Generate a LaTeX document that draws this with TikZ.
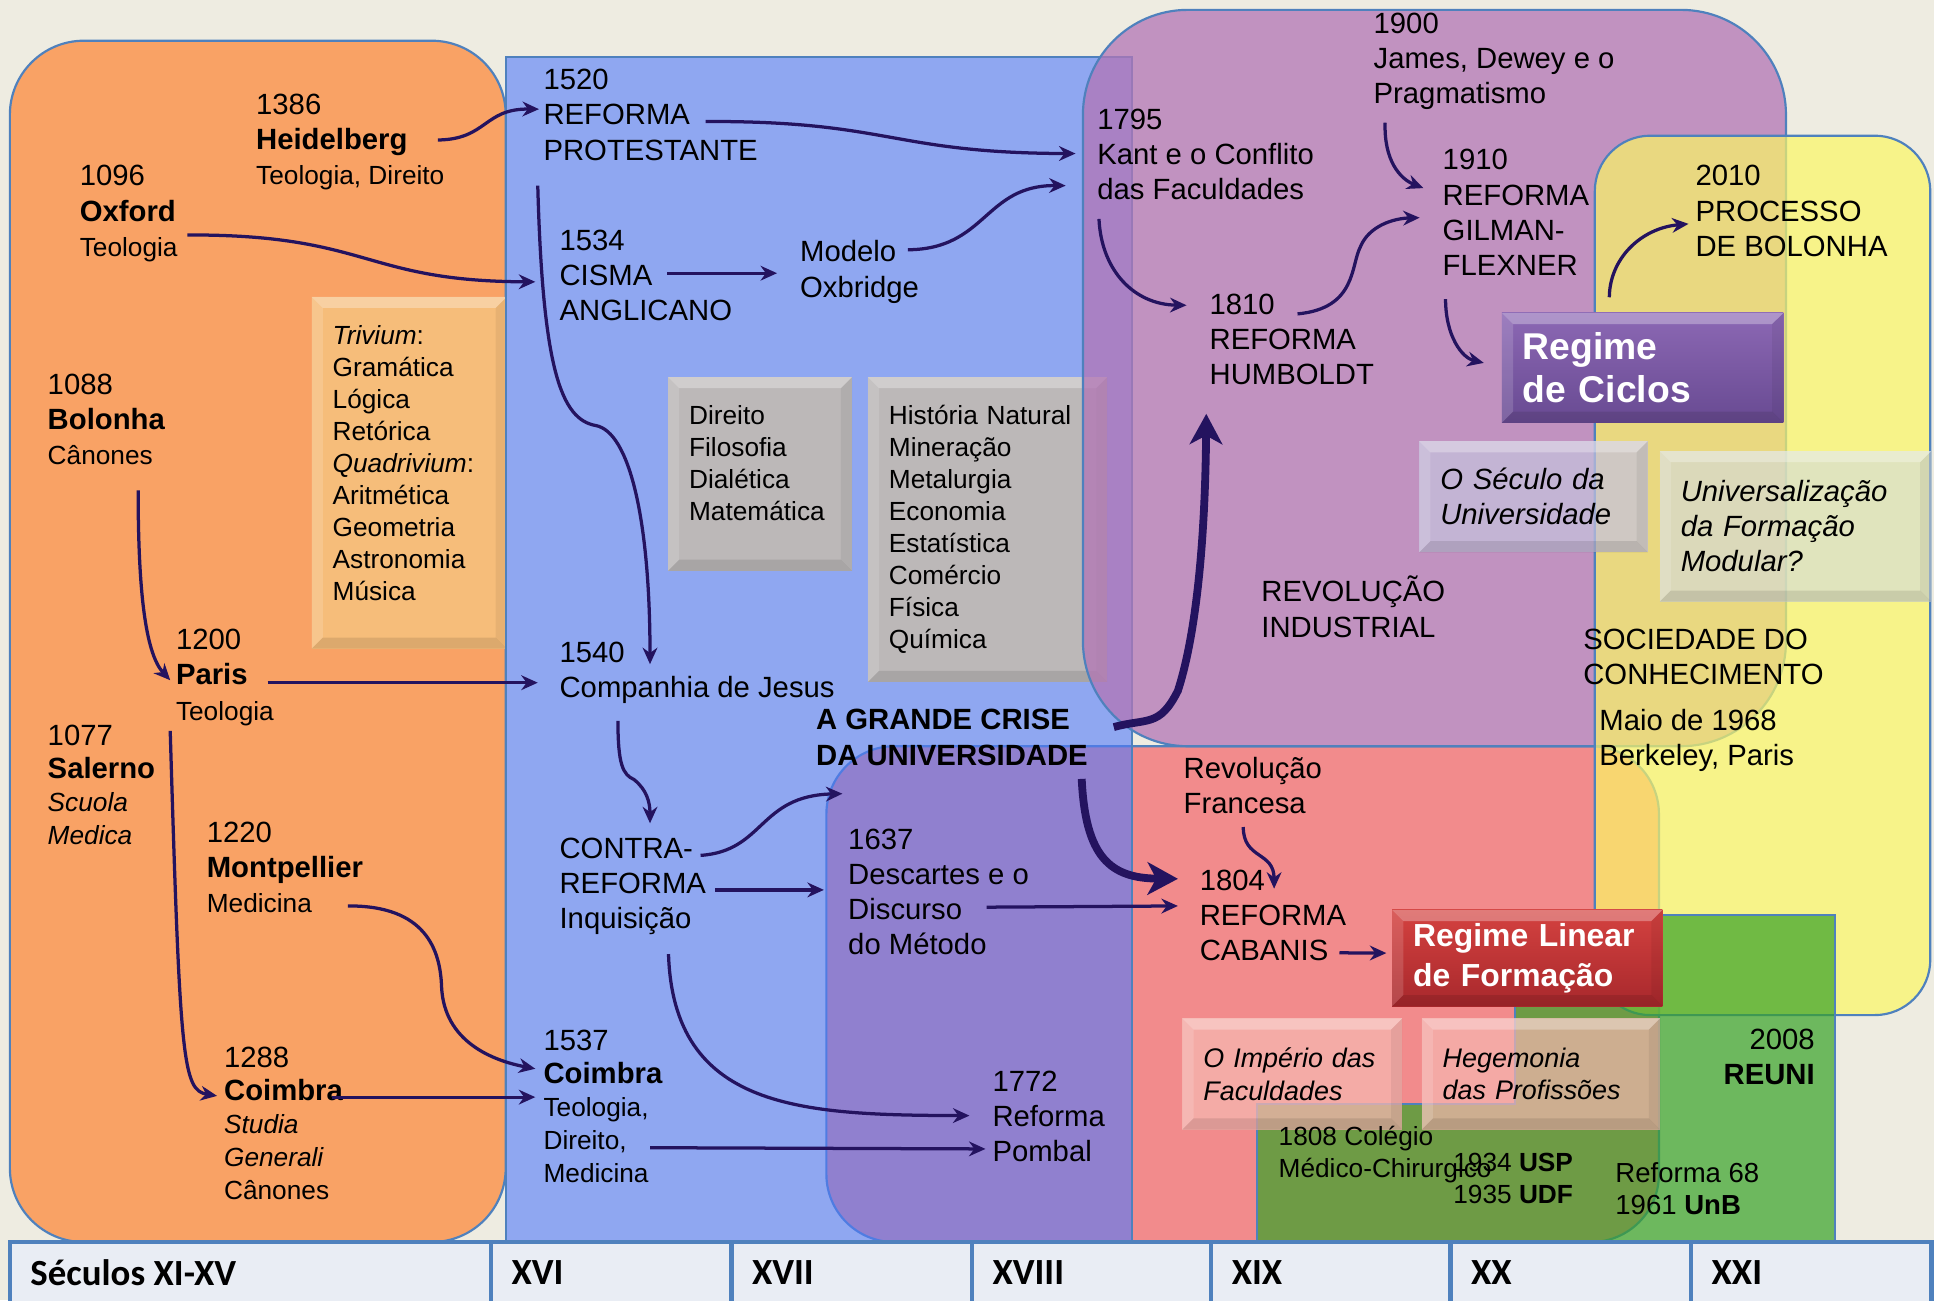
\documentclass[tikz,border=0pt]{standalone}
\usepackage{fontspec}
\setmainfont{Liberation Sans}
\newfontfamily\barfont{Carlito}
\usetikzlibrary{arrows.meta}

\newcommand{\mainsz}{\fontsize{6.75}{8.1}\selectfont}
\newcommand{\tightsz}{\fontsize{6.75}{7.6}\selectfont}
\newcommand{\subsz}{\fontsize{6.05}{7.4}\selectfont}
\newcommand{\listsz}{\fontsize{6.05}{7.4}\selectfont\hyphenpenalty=10000 }
\newcommand{\boxsz}{\fontsize{6.75}{8.1}\selectfont\itshape\hyphenpenalty=10000 }
\newcommand{\smallboxsz}{\fontsize{6.2}{7.5}\selectfont\itshape\hyphenpenalty=10000 }

\definecolor{pagebg}{HTML}{EEECE1}
\definecolor{edgeblue}{HTML}{4F81BD}
\definecolor{orangefill}{HTML}{F9A265}
\definecolor{trivfill}{HTML}{F6BD7A}
\definecolor{bluefill}{RGB}{80,121,252}
\definecolor{redfill}{RGB}{244,99,104}
\definecolor{purplefill}{RGB}{178,117,181}
\definecolor{yellowfill}{RGB}{251,246,101}
\definecolor{greenfill}{RGB}{55,162,39}
\definecolor{grayfill}{HTML}{C0BAB4}
\definecolor{lavfill}{RGB}{197,194,221}
\definecolor{palefill}{RGB}{210,218,225}
\definecolor{pinkfill}{RGB}{246,183,176}
\definecolor{ciclostop}{RGB}{140,104,180}
\definecolor{ciclosbot}{RGB}{104,74,146}
\definecolor{lineartop}{RGB}{212,66,64}
\definecolor{linearbot}{RGB}{168,40,44}
\definecolor{arrowink}{HTML}{24135F}
\definecolor{barfill}{HTML}{E9EDF4}

\tikzstyle{region} = [draw=edgeblue, line width=0.5pt]
\tikzstyle{txt} = [anchor=north west, inner sep=0pt, align=left, font=\mainsz]
\tikzstyle{bevelbox} = [anchor=north west, inner xsep=0.17cm, inner ysep=0pt, align=left, text opacity=1,
  path picture={
    \fill[white, opacity=0.3] (path picture bounding box.north west) -- (path picture bounding box.north east) -- ([shift={(-9,9)}]path picture bounding box.north east) -- ([shift={(9,9)}]path picture bounding box.north west) -- cycle;
    \fill[white, opacity=0.15] (path picture bounding box.north west) -- (path picture bounding box.south west) -- ([shift={(9,-9)}]path picture bounding box.south west) -- ([shift={(9,9)}]path picture bounding box.north west) -- cycle;
    \fill[black, opacity=0.1] (path picture bounding box.south west) -- (path picture bounding box.south east) -- ([shift={(-9,-9)}]path picture bounding box.south east) -- ([shift={(9,-9)}]path picture bounding box.south west) -- cycle;
    \fill[black, opacity=0.06] (path picture bounding box.north east) -- (path picture bounding box.south east) -- ([shift={(-9,-9)}]path picture bounding box.south east) -- ([shift={(-9,9)}]path picture bounding box.north east) -- cycle;
  }]
\tikzstyle{arrow} = [draw=arrowink, line width=0.75pt, -{Stealth[length=3.8pt,width=3.4pt]}]
\tikzstyle{bigarrow} = [draw=arrowink, line width=1.8pt, -{Stealth[length=7pt,width=7.5pt,inset=2pt]}]
\tikzstyle{barcell} = [draw=edgeblue, line width=1pt, fill=barfill]
\tikzstyle{bartxt} = [anchor=west, inner sep=0pt, font=\barfont\bfseries\fontsize{8.5}{10}\selectfont]

\begin{document}
\begin{tikzpicture}[x=0.01cm, y=-0.01cm]
\useasboundingbox (0,0) rectangle (1568,1054);
\fill[pagebg] (0,0) rectangle (1568,1054);

% periods
\draw[region, fill=orangefill, rounded corners=0.6cm] (8,33) rectangle (410,1007);
\node[bevelbox, fill=trivfill, minimum width=1.58cm, minimum height=2.85cm, text width=1.24cm, text depth=2.24cm, font=\listsz] (trivbox) at (252,240)
  {\textit{Trivium}:\\Gramática\\Lógica\\Retórica\\\textit{Quadrivium}:\\Aritmética\\Geometria\\Astronomia\\Música};
\draw[region, fill=redfill, fill opacity=0.7, rounded corners=0.55cm] (670,605) rectangle (1345,1007);
\draw[region, fill=bluefill, fill opacity=0.6] (410,46) rectangle (918,1007);
\node[bevelbox, fill=grayfill, fill opacity=0.92, minimum width=1.49cm, minimum height=1.57cm, text width=1.15cm, text depth=0.96cm, font=\listsz] (dirbox) at (541,305)
  {Direito\\Filosofia\\Dialética\\Matemática};
\node[bevelbox, fill=grayfill, fill opacity=0.92, minimum width=1.94cm, minimum height=2.47cm, text width=1.6cm, font=\listsz] (natbox) at (703,305)
  {História Natural\\Mineração\\Metalurgia\\Economia\\Estatística\\Comércio\\Física\\Química};
\draw[region, fill=purplefill, fill opacity=0.75, rounded corners=0.85cm] (878,8) rectangle (1448,605);
\draw[region, fill=yellowfill, fill opacity=0.7, rounded corners=0.45cm] (1293,110) rectangle (1565,823);
\draw[region, fill=greenfill, fill opacity=0.7] (1019,1007) -- (1019,895) -- (1228,895) -- (1228,742) -- (1488,742) -- (1488,1007) -- cycle;

% boxes
\node[bevelbox, fill=lavfill, fill opacity=0.72, minimum width=1.85cm, minimum height=0.9cm, text width=1.51cm, font=\boxsz] (seculo) at (1150,357)
  {O Século da\\Universidade};
\node[bevelbox, fill=palefill, fill opacity=0.6, minimum width=2.2cm, minimum height=1.22cm, text width=1.86cm, font=\boxsz] (univ) at (1345,365)
  {Universalização\\da Formação\\Modular?};
\node[bevelbox, fill=pinkfill, fill opacity=0.75, minimum width=1.78cm, minimum height=0.9cm, text width=1.44cm, font=\smallboxsz] (imperio) at (958,825)
  {O Império das\\Faculdades};
\node[bevelbox, fill=pinkfill, fill opacity=0.7, minimum width=1.93cm, minimum height=0.9cm, text width=1.59cm, font=\smallboxsz] (hegem) at (1152,825)
  {Hegemonia\\das Profissões};
\node[bevelbox, top color=ciclostop, bottom color=ciclosbot, text=white, minimum width=2.28cm, minimum height=0.89cm, text width=1.94cm, font={\fontsize{8.6}{10}\selectfont\bfseries}] (ciclos) at (1217,253)
  {Regime\\de Ciclos};
\node[bevelbox, top color=lineartop, bottom color=linearbot, text=white, minimum width=2.19cm, minimum height=0.78cm, text width=1.85cm, font={\fontsize{7.35}{9.1}\selectfont\bfseries}] (linear) at (1128,737)
  {Regime Linear\\de Formação};

% universities and events
\node[txt] (heid) at (207,75.5) {1386\\\textbf{Heidelberg}\\{\subsz Teologia, Direito}};
\node[txt] (oxf) at (64,133.5) {1096\\\textbf{Oxford}\\{\subsz Teologia}};
\node[txt] (bol) at (38,302.5) {1088\\\textbf{Bolonha}\\{\subsz Cânones}};
\node[txt] (par) at (142,509.5) {1200\\\textbf{Paris}\\{\subsz Teologia}};
\node[txt, font=\tightsz] (sal) at (38,587.5) {1077\\\textbf{Salerno}\\{\subsz\itshape Scuola}\\{\subsz\itshape Medica}};
\node[txt] (mont) at (167,665.5) {1220\\\textbf{Montpellier}\\{\subsz Medicina}};
\node[txt, font=\tightsz] (coimA) at (181,848.5) {1288\\\textbf{Coimbra}\\{\subsz\itshape Studia}\\{\subsz\itshape Generali}\\{\subsz Cânones}};
\node[txt] (reforma) at (440,55.5) {1520\\REFORMA\\PROTESTANTE};
\node[txt] (cisma) at (453,185.5) {1534\\CISMA\\ANGLICANO};
\node[txt] (oxbr) at (648,194.5) {Modelo\\Oxbridge};
\node[txt] (jesus) at (453,519.5) {1540\\Companhia de Jesus};
\node[txt, font=\mainsz\bfseries] (crise) at (661,574.5) {A GRANDE CRISE\\DA UNIVERSIDADE};
\node[txt] (contra) at (453,678.5) {CONTRA-\\REFORMA\\Inquisição};
\node[txt] (desc) at (687,671.5) {1637\\Descartes e o\\Discurso\\do Método};
\node[txt, font=\tightsz] (coimB) at (440,834.5) {1537\\\textbf{Coimbra}\\{\subsz Teologia,}\\{\subsz Direito,}\\{\subsz Medicina}};
\node[txt] (pombal) at (804,867.5) {1772\\Reforma\\Pombal};
\node[txt] (james) at (1113,9.5) {1900\\James, Dewey e o\\Pragmatismo};
\node[txt] (kant) at (889,87.5) {1795\\Kant e o Conflito\\das Faculdades};
\node[txt] (gilman) at (1169,120.5) {1910\\REFORMA\\GILMAN-\\FLEXNER};
\node[txt] (humb) at (980,237.5) {1810\\REFORMA\\HUMBOLDT};
\node[txt] (proc) at (1374,133.5) {2010\\PROCESSO\\DE BOLONHA};
\node[txt] (revind) at (1022,466.5) {REVOLUÇÃO\\INDUSTRIAL};
\node[txt] (socied) at (1283,509.5) {SOCIEDADE DO\\CONHECIMENTO};
\node[txt] (maio) at (1296,574.5) {Maio de 1968\\Berkeley, Paris};
\node[txt] (revfr) at (959,613.5) {Revolução\\Francesa};
\node[txt] (cabanis) at (972,704.5) {1804\\REFORMA\\CABANIS};
\node[txt, font=\subsz] (colegio) at (1036,912.5) {1808 Colégio\\Médico-Chirurgico};
\node[txt, anchor=north east, align=right, font=\subsz] (usp) at (1276,934) {1934 \textbf{USP}\\1935 \textbf{UDF}};
\node[txt, font={\fontsize{6.35}{7.4}\selectfont}] (unb) at (1309,942) {Reforma 68\\1961 \textbf{UnB}};
\node[txt, anchor=north east, align=right] (reuni) at (1472,833.5) {2008\\\textbf{REUNI}};

% connectors
\draw[arrow] ([shift={(148,38)}]heid.north west) .. controls (395,113) and (392,88) .. ([shift={(-3,33)}]reforma.north west);
\draw[arrow] ([shift={(88,57)}]oxf.north west) .. controls (300,190) and (294,228) .. ([shift={(-19,43)}]cisma.north west);
\draw[arrow] ([shift={(132,43)}]reforma.north west) .. controls (722,98) and (722,124) .. ([shift={(-17,37)}]kant.north west);
\draw[arrow] ([shift={(88,8)}]oxbr.north west) .. controls (800,202) and (798,150) .. ([shift={(-25,63)}]kant.north west);
\draw[arrow] ([shift={(88,36)}]cisma.north west) -- ([shift={(-18,27)}]oxbr.north west);
\draw[arrow] ([shift={(-4,95)}]reforma.north west) .. controls (440,300) and (455,340) .. (483,345) .. controls (510,350) and (527,420) .. ([shift={(74,19)}]jesus.north west);
\draw[arrow] ([shift={(74,95)}]bol.north west) .. controls (112,480) and (118,530) .. ([shift={(-4,42)}]par.north west);
\draw[arrow] ([shift={(75,44)}]par.north west) -- ([shift={(-17,34)}]jesus.north west);
\draw[arrow] ([shift={(48,65)}]jesus.north west) .. controls (501,620) and (505,628) .. (514,632) .. controls (524,640) and (527,650) .. ([shift={(74,-11)}]contra.north west);
\draw[arrow] ([shift={(115,15)}]contra.north west) .. controls (620,690) and (615,645) .. ([shift={(-4,-28)}]desc.north west);
\draw[arrow] ([shift={(127,43)}]contra.north west) -- ([shift={(-19,50)}]desc.north west);
\draw[arrow] ([shift={(113,64)}]desc.north west) -- ([shift={(-17,30)}]cabanis.north west);
\draw[arrow] ([shift={(89,95)}]contra.north west) .. controls (546,900) and (650,904) .. ([shift={(-18,37)}]pombal.north west);
\draw[arrow] ([shift={(87,96)}]coimB.north west) -- ([shift={(-5,64)}]pombal.north west);
\draw[arrow] ([shift={(-4,83)}]par.north west) .. controls (146,860) and (148,884) .. ([shift={(-5,40)}]coimA.north west);
\draw[arrow] ([shift={(88,41)}]coimA.north west) -- ([shift={(-6,55)}]coimB.north west);
\draw[arrow] ([shift={(115,69)}]mont.north west) .. controls (345,734) and (357,770) .. (358,800) .. controls (360,845) and (400,860) .. ([shift={(-6,32)}]coimB.north west);
\draw[arrow] ([shift={(2,90)}]kant.north west) .. controls (893,220) and (920,247) .. ([shift={(-18,10)}]humb.north west);
\draw[arrow] ([shift={(72,17)}]humb.north west) .. controls (1100,250) and (1095,215) .. (1103,200) .. controls (1110,183) and (1130,177) .. ([shift={(-18,56)}]gilman.north west);
\draw[arrow] ([shift={(10,90)}]james.north west) .. controls (1122,130) and (1135,145) .. ([shift={(-15,32)}]gilman.north west);
\draw[arrow] ([shift={(3,122)}]gilman.north west) .. controls (1172,272) and (1185,290) .. ([shift={(-14,-4)}]ciclos.west);
\draw[arrow] ([shift={(-27,-12)}]ciclos.north) .. controls (1305,210) and (1330,185) .. ([shift={(-5,48)}]proc.north west);
\draw[arrow] ([shift={(49,57)}]revfr.north west) .. controls (1008,697) and (1033,690) .. ([shift={(61,16)}]cabanis.north west);
\draw[arrow] ([shift={(114,68)}]cabanis.north west) -- ([shift={(-4,-4)}]linear.west);
\draw[bigarrow] ([shift={(242,15)}]crise.north west) .. controls (930,582) and (940,590) .. (955,560) .. controls (968,520) and (977,450) .. ([shift={(-2,98)}]humb.north west);
\draw[bigarrow] ([shift={(216,57)}]crise.north west) .. controls (880,695) and (900,712) .. ([shift={(-17,8)}]cabanis.north west);

% centuries
\foreach \xa/\xb/\lbl [count=\i] in {8/398/Séculos XI-XV, 398/593/XVI, 593/788/XVII, 788/982/XVIII, 982/1176/XIX, 1176/1371/XX, 1371/1566/XXI} {
  \draw[barcell] (\xa,1007) rectangle (\xb,1062);
  \node[bartxt] (sec\i) at (\xa+16,1032) {\lbl};
}
\end{tikzpicture}
\end{document}
